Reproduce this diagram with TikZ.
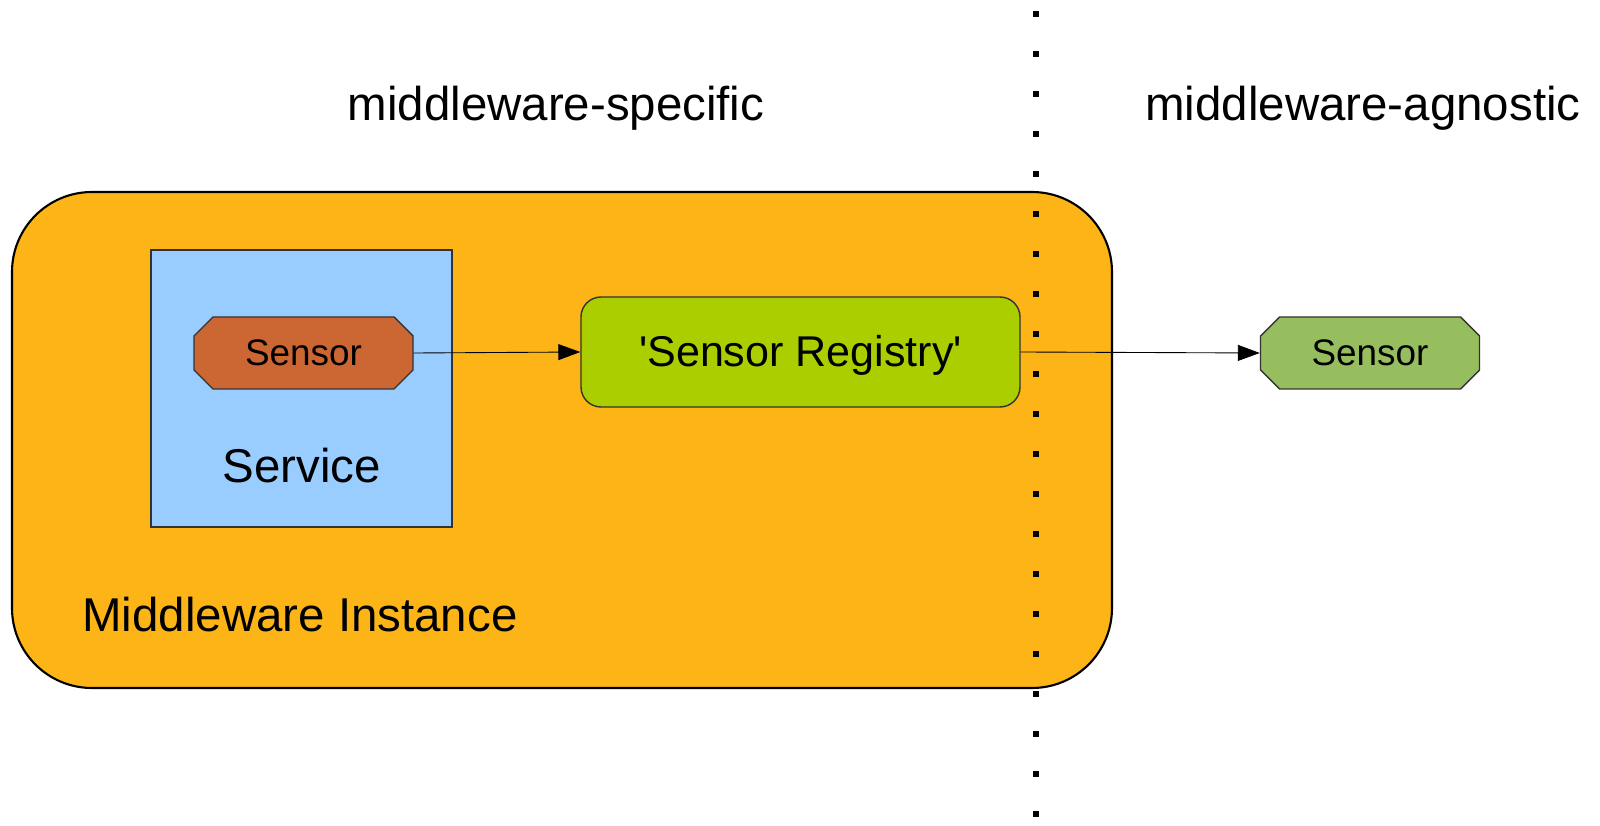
\documentclass[tikz,border=0pt]{standalone}
\usepackage{fontspec}
\setmainfont{Liberation Sans}
\usepackage{tikz}
\usetikzlibrary{calc,positioning,shapes,shapes.misc,arrows,arrows.meta,fit,backgrounds}

\definecolor{mworange}{RGB}{253,180,22}
\definecolor{svcblue}{RGB}{153,204,255}
\definecolor{sensbrown}{RGB}{204,102,51}
\definecolor{reggreen}{RGB}{170,206,0}
\definecolor{sensgreen}{RGB}{150,190,95}

\tikzset{
	bigtext/.style={font=\fontsize{27}{32}\selectfont},
	sensorbox/.style={chamfered rectangle,chamfered rectangle sep=0.19cm,
		draw=black!80,line width=0.8pt,minimum width=4.38cm,minimum height=1.44cm,inner sep=0pt,
		font=\fontsize{21}{25}\selectfont},
	flow/.style={-{Triangle[length=0.44cm,width=0.32cm]},line width=0.5pt}
}

\begin{document}
\begin{tikzpicture}
		\useasboundingbox (0,0) rectangle (32,-16.52);
		\begin{scope}
			% middleware instance
			\node(mw) at (11.24,-8.8) [draw,fill=mworange,line width=1.2pt,rounded corners=1.6cm,
				minimum width=22cm,minimum height=9.92cm] {};
			\node(mwlabel) at (1.64,-12.3) [anchor=west,inner sep=0pt,bigtext] {Middleware Instance};
			% service
			\node(svc) at (6.03,-7.77) [draw=black!80,fill=svcblue,line width=0.8pt,
				minimum width=6.02cm,minimum height=5.54cm] {};
			\node(svclabel) at (6.04,-9.32) [inner sep=0pt,bigtext] {Service};
			\node(s1) at (6.07,-7.06) [sensorbox,fill=sensbrown] {Sensor};
			% registry
			\node(reg) at (16.01,-7.04) [draw=black!80,fill=reggreen,line width=0.8pt,rounded corners=0.4cm,
				minimum width=8.78cm,minimum height=2.2cm,text height=0.75cm,
				font=\fontsize{24.5}{29}\selectfont] {\textquotesingle Sensor Registry\textquotesingle};
			\node(s2) at (27.4,-7.06) [sensorbox,fill=sensgreen] {Sensor};
			\draw[flow] (s1.east) -- (reg.west);
			\draw[flow] (reg.east) -- (s2.west);
			% border line
			\foreach \i in {0,...,20}
				\fill ($(20.66,-0.22)+(0,-0.8*\i)$) rectangle ++(0.12,-0.12);
			\node(spec) at (11.12,-2.16) [bigtext] {middleware-specific};
			\node(agn) at (27.26,-2.16) [bigtext] {middleware-agnostic};
		\end{scope}
	\end{tikzpicture}
\end{document}
